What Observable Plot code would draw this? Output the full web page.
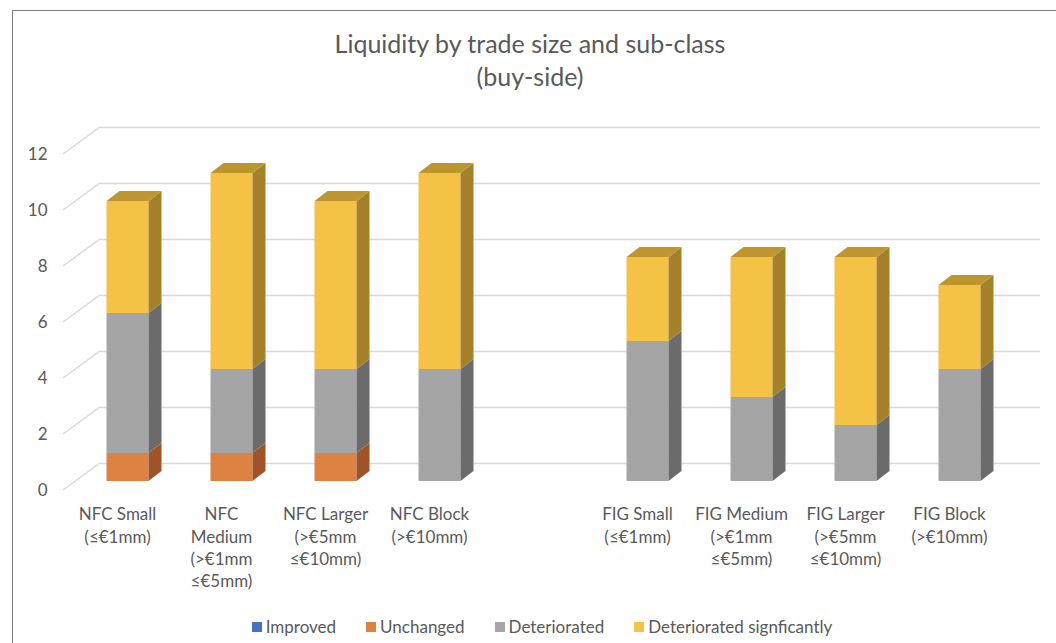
<!DOCTYPE html>
<html>
<head>
<meta charset="utf-8">
<script src="https://cdn.jsdelivr.net/npm/d3@7"></script>
<script src="https://cdn.jsdelivr.net/npm/@observablehq/plot@0.6"></script>
<style>
  body { margin: 0; background: #fff; font-family: Lato, "Open Sans", sans-serif; }
  #wrap { position: relative; width: 1056px; height: 643px; overflow: hidden; background: #fff; }
  #frame { position: absolute; left: 12px; top: 10px; width: 1100px; height: 700px;
           border-left: 1.5px solid #808080; border-top: 1.5px solid #808080; }
  #title { position: absolute; left: 0; width: 1060px; top: 27px; text-align: center;
           font-size: 25px; line-height: 33px; color: #595959; }
  #chart { position: absolute; left: 0; top: 100px; }
  #legend { position: absolute; left: 0; width: 1084px; top: 616px; display: flex;
            justify-content: center; gap: 30px; font-size: 17px; color: #595959; }
  .item { display: flex; align-items: center; }
  .sw { width: 10px; height: 10px; margin-right: 4px; }
</style>
</head>
<body>
<div id="wrap">
  <div id="frame"></div>
  <div id="title">Liquidity by trade size and sub-class<br>(buy-side)</div>
  <div id="chart"></div>
  <div id="legend"></div>
</div>
<script>
// ---- data ----
const categories = ["NFC Small", "NFC Medium", "NFC Larger", "NFC Block", "gap",
                    "FIG Small", "FIG Medium", "FIG Larger", "FIG Block"];
const tickLabels = ["NFC Small\n(≤€1mm)", "NFC\nMedium\n(>€1mm\n≤€5mm)", "NFC Larger\n(>€5mm\n≤€10mm)",
                    "NFC Block\n(>€10mm)", "", "FIG Small\n(≤€1mm)", "FIG Medium\n(>€1mm\n≤€5mm)",
                    "FIG Larger\n(>€5mm\n≤€10mm)", "FIG Block\n(>€10mm)"];
const seriesNames = ["Improved", "Unchanged", "Deteriorated", "Deteriorated signficantly"];
const improved        = [0, 0, 0, 0, null, 0, 0, 0, 0];
const unchanged       = [1, 1, 1, 0, null, 0, 0, 0, 0];
const deteriorated    = [5, 3, 3, 4, null, 5, 3, 2, 4];
const deterioratedSig = [4, 7, 6, 7, null, 3, 5, 6, 3];
const yTicks = [0, 2, 4, 6, 8, 10, 12];

// ---- styles ----
const frontColors = ["#4472C4", "#DE8244", "#A5A5A5", "#F4C244"];
const sideColors  = ["#2F5597", "#9E5428", "#6B6B6B", "#A5822A"];
const topColors   = ["#3A63AD", "#B5642E", "#8A8A8A", "#BE962F"];
const DX = 37, DY = -27;          // depth of the 3D floor (px)
const FDX = 10.5, FDY = -9;       // front face offset from floor front (px)
const SDX = 13, SDY = -10;        // bar side depth (px)
const INSET = 31;                 // bar inset within band (px)

const seriesValues = [improved, unchanged, deteriorated, deterioratedSig];
const rows = [];
seriesNames.forEach((s, si) => {
  categories.forEach((c, ci) => {
    const v = seriesValues[si][ci];
    if (v != null) rows.push({cat: c, series: s, value: v});
  });
});

function sideWall(index, scales, values, dimensions) {
  const g = d3.create("svg:g");
  const x0 = dimensions.marginLeft;
  yTicks.forEach(t => {
    const yy = scales.y(t);
    g.append("path").attr("d", `M${x0},${yy}L${x0 + DX},${yy + DY}`)
      .attr("stroke", "#d9d9d9").attr("stroke-width", 1.5).attr("fill", "none");
  });
  return g.node();
}

function prisms(index, scales) {
  const g = d3.create("svg:g");
  const x = scales.x, y = scales.y;
  const bw = x(categories[1]) - x(categories[0]);
  categories.forEach((cat, ci) => {
    let base = 0;
    const segs = seriesValues.map((arr, si) => ({si, v: arr[ci]})).filter(d => d.v != null && d.v > 0);
    segs.forEach((d, k) => {
      const xl = x(cat) + INSET + FDX, xr = x(cat) + bw - INSET + FDX;
      const fy0 = y(base) + FDY, fy1 = y(base + d.v) + FDY;
      g.append("path")
        .attr("d", `M${xr},${fy0}L${xr + SDX},${fy0 + SDY}L${xr + SDX},${fy1 + SDY}L${xr},${fy1}Z`)
        .attr("fill", sideColors[d.si]);
      if (k === segs.length - 1) {
        g.append("path")
          .attr("d", `M${xl},${fy1}L${xl + SDX},${fy1 + SDY}L${xr + SDX},${fy1 + SDY}L${xr},${fy1}Z`)
          .attr("fill", topColors[d.si]);
      }
      base += d.v;
    });
  });
  return g.node();
}

const chart = Plot.plot({
  width: 1056,
  height: 500,
  marginLeft: 63,
  marginRight: 53,
  marginTop: 0,
  marginBottom: 110,
  x: {domain: categories, range: [63, 1003], padding: 0, axis: null},
  y: {domain: [0, 12], range: [390, 54], axis: null},
  color: {domain: seriesNames, range: frontColors},
  style: {fontFamily: "Lato, 'Open Sans', sans-serif", fontSize: "17px", color: "#595959", background: "none"},
  marks: [
    Plot.ruleY(yTicks, {stroke: "#d9d9d9", strokeWidth: 1.5, dx: DX, dy: DY}),
    sideWall,
    Plot.text(yTicks, {y: d => d, text: d => String(d), frameAnchor: "left", textAnchor: "end",
                       dx: -16, fontSize: 17, fill: "#595959"}),
    Plot.text(categories.map((c, i) => ({c, label: tickLabels[i]})).filter(d => d.label !== ""),
              {x: "c", text: "label", frameAnchor: "bottom", lineAnchor: "top", dy: 14,
               lineHeight: 1.31, fontSize: 17, fill: "#595959"}),
    Plot.barY(rows, {x: "cat", y: "value", fill: "series", dx: FDX, dy: FDY,
                     insetLeft: INSET, insetRight: INSET}),
    prisms
  ]
});
document.getElementById("chart").appendChild(chart);

const legend = document.getElementById("legend");
seriesNames.forEach((s, i) => {
  const it = document.createElement("div");
  it.className = "item";
  const sw = document.createElement("div");
  sw.className = "sw";
  sw.style.background = frontColors[i];
  const tx = document.createElement("span");
  tx.textContent = s;
  it.appendChild(sw); it.appendChild(tx);
  legend.appendChild(it);
});
</script>
</body>
</html>
